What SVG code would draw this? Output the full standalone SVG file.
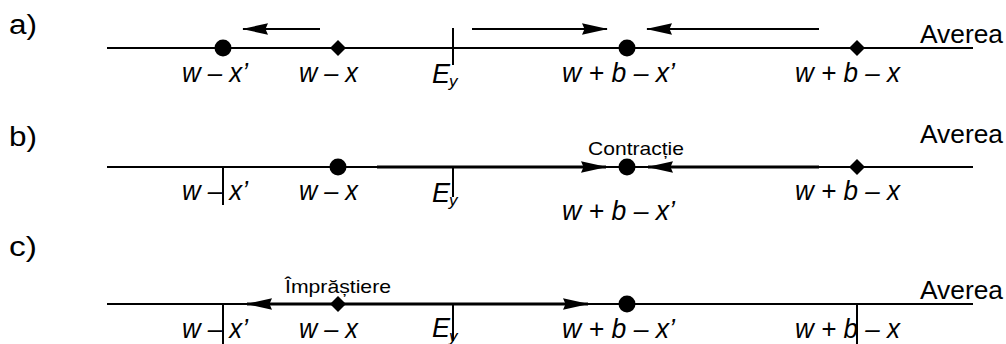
<svg xmlns="http://www.w3.org/2000/svg" width="1006" height="344" viewBox="0 0 1006 344">
<defs>
<style>
.ax{stroke:#000;stroke-width:2;fill:none}
.tk{stroke:#000;stroke-width:2;fill:none}
.ar{stroke:#000;stroke-width:2;fill:none;marker-end:url(#ah)}
.art{stroke:#000;stroke-width:3;fill:none;marker-end:url(#ah)}
.dot{fill:#000}
.t{font-family:"Liberation Sans",Arial,sans-serif;fill:#000}
.lb{font-size:27px}
.it{font-family:"Liberation Sans",Arial,sans-serif;font-style:italic;font-size:27px;fill:#000}
.sub{font-family:"Liberation Sans",Arial,sans-serif;font-style:italic;font-size:17px;fill:#000}
.sm{font-size:19px}
.av{font-size:25px}
</style>
<marker id="ah" viewBox="0 0 26 12" refX="25" refY="6" markerWidth="26" markerHeight="12" markerUnits="userSpaceOnUse" orient="auto">
<path d="M26,6 L0,0.3 L2.5,6 L0,11.7 Z" fill="#000"/>
</marker>
</defs>

<g id="labels">
<text class="t lb" x="9" y="34" textLength="28" lengthAdjust="spacingAndGlyphs">a)</text>
<text class="t lb" x="9" y="146" textLength="28" lengthAdjust="spacingAndGlyphs">b)</text>
<text class="t lb" x="9" y="256" textLength="28" lengthAdjust="spacingAndGlyphs">c)</text>
</g>

<g id="connectors">
<!-- row a -->
<line class="ax" x1="107" y1="48" x2="973" y2="48"/>
<line class="ar" x1="320" y1="29" x2="243" y2="29"/>
<line class="ar" x1="472" y1="29" x2="607" y2="29"/>
<line class="ar" x1="819" y1="29" x2="647" y2="29"/>
<line class="tk" x1="453" y1="28" x2="453" y2="65"/>
<!-- row b -->
<line class="ax" x1="107" y1="167" x2="973" y2="167"/>
<line class="art" x1="377" y1="167" x2="606" y2="167"/>
<line class="art" x1="819" y1="167" x2="648" y2="167"/>
<line class="tk" x1="223" y1="167" x2="223" y2="205"/>
<line class="tk" x1="453" y1="167" x2="453" y2="197"/>
<!-- row c -->
<line class="ax" x1="107" y1="304" x2="973" y2="304"/>
<line class="art" x1="338" y1="304" x2="247" y2="304"/>
<line class="art" x1="338" y1="304" x2="588" y2="304"/>
<line class="tk" x1="223" y1="304" x2="223" y2="344"/>
<line class="tk" x1="453" y1="304" x2="453" y2="341"/>
<line class="tk" x1="857" y1="304" x2="857" y2="344"/>
</g>

<g id="row-a">
<circle class="dot" cx="223" cy="48" r="8.5"/>
<path class="dot" d="M338,40 L346,48 L338,56 L330,48 Z"/>
<circle class="dot" cx="627" cy="48" r="8.5"/>
<path class="dot" d="M857,40 L865,48 L857,56 L849,48 Z"/>
<text class="it" x="182" y="82" textLength="66" lengthAdjust="spacingAndGlyphs">w – x’</text>
<text class="it" x="299" y="82" textLength="59" lengthAdjust="spacingAndGlyphs">w – x</text>
<text class="it" x="432" y="83">E</text><text class="sub" x="449" y="87">y</text>
<text class="it" x="562" y="82" textLength="113" lengthAdjust="spacingAndGlyphs">w + b – x’</text>
<text class="it" x="795" y="82" textLength="105" lengthAdjust="spacingAndGlyphs">w + b – x</text>
<text class="t av" x="920" y="43" textLength="83" lengthAdjust="spacingAndGlyphs">Averea</text>
</g>

<g id="row-b">
<circle class="dot" cx="338" cy="167" r="8.5"/>
<circle class="dot" cx="627" cy="167" r="8.5"/>
<path class="dot" d="M857,159 L865,167 L857,175 L849,167 Z"/>
<text class="it" x="182" y="200" textLength="66" lengthAdjust="spacingAndGlyphs">w – x’</text>
<text class="it" x="299" y="200" textLength="59" lengthAdjust="spacingAndGlyphs">w – x</text>
<text class="it" x="432" y="202">E</text><text class="sub" x="449" y="206">y</text>
<text class="it" x="562" y="220" textLength="113" lengthAdjust="spacingAndGlyphs">w + b – x’</text>
<text class="it" x="795" y="200" textLength="105" lengthAdjust="spacingAndGlyphs">w + b – x</text>
<text class="t sm" x="588" y="155" textLength="96" lengthAdjust="spacingAndGlyphs">Contracție</text>
<text class="t av" x="920" y="143" textLength="83" lengthAdjust="spacingAndGlyphs">Averea</text>
</g>

<g id="row-c">
<path class="dot" d="M338,296 L346,304 L338,312 L330,304 Z"/>
<circle class="dot" cx="627" cy="304" r="8.5"/>
<text class="it" x="182" y="338" textLength="66" lengthAdjust="spacingAndGlyphs">w – x’</text>
<text class="it" x="299" y="338" textLength="59" lengthAdjust="spacingAndGlyphs">w – x</text>
<text class="it" x="432" y="337">E</text><text class="sub" x="449" y="342">y</text>
<text class="it" x="562" y="338" textLength="113" lengthAdjust="spacingAndGlyphs">w + b – x’</text>
<text class="it" x="795" y="338" textLength="105" lengthAdjust="spacingAndGlyphs">w + b – x</text>
<text class="t sm" x="285" y="293" textLength="106" lengthAdjust="spacingAndGlyphs">Împrăștiere</text>
<text class="t av" x="920" y="299" textLength="83" lengthAdjust="spacingAndGlyphs">Averea</text>
</g>
</svg>
